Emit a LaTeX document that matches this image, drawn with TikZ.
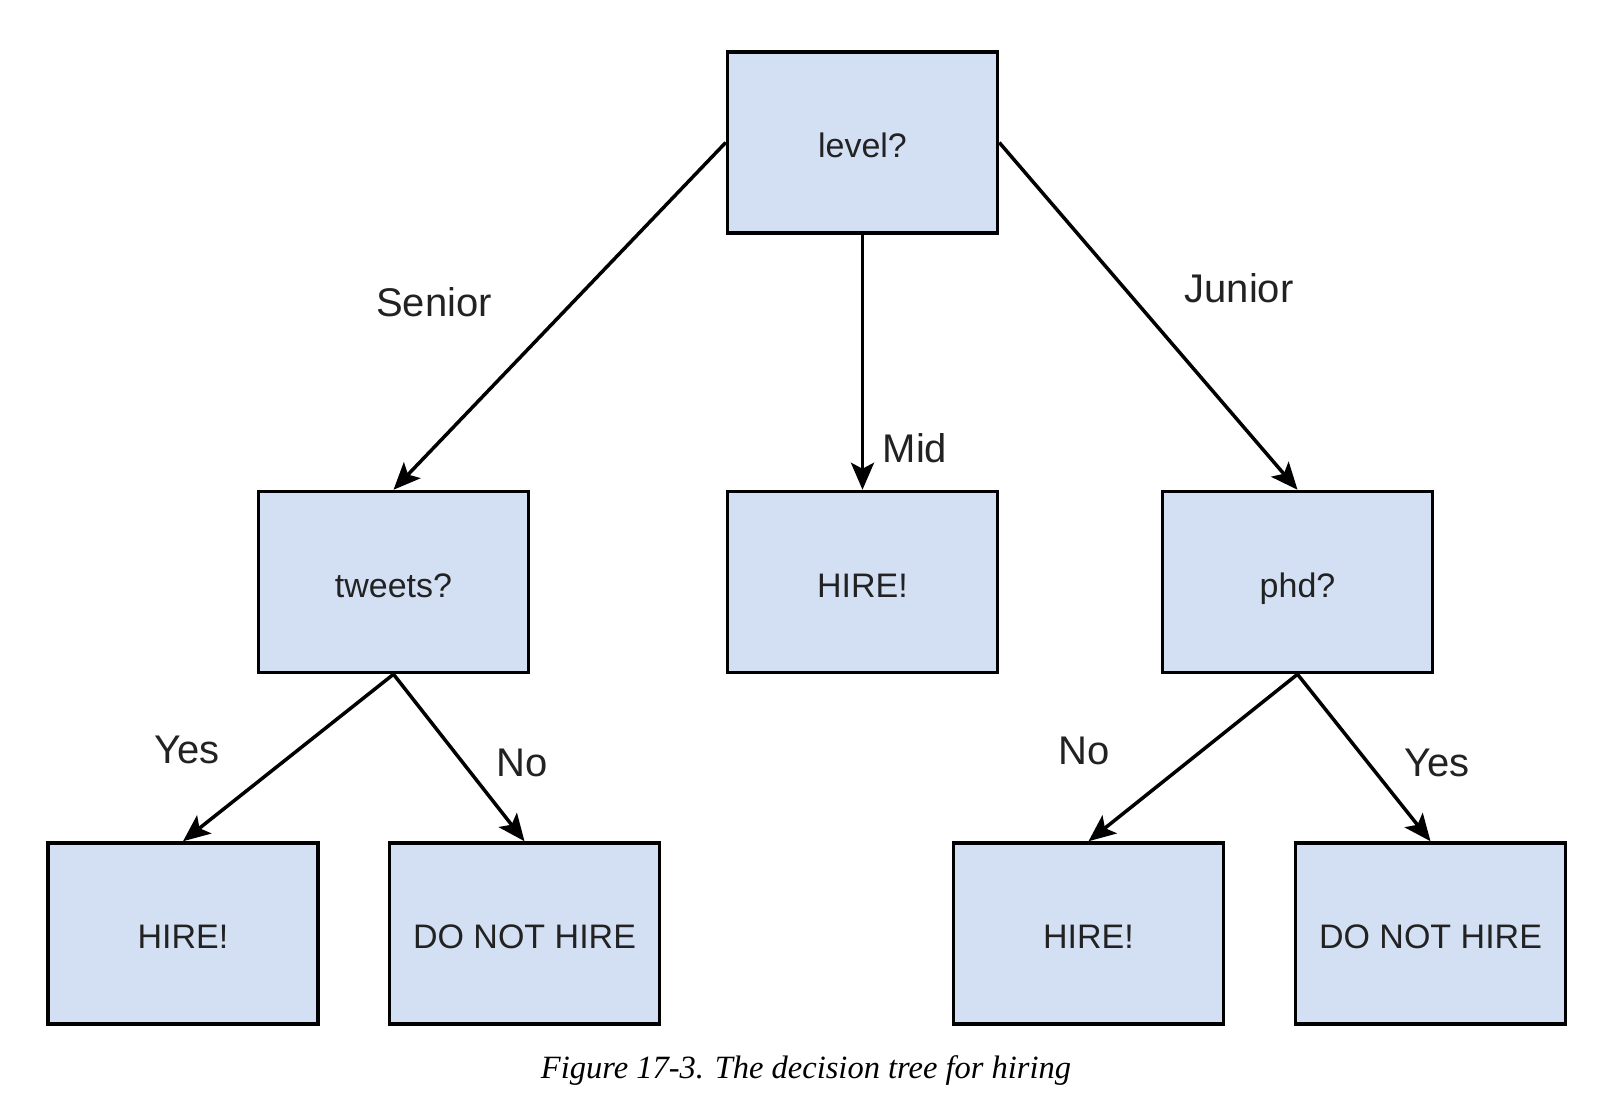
\documentclass[tikz,border=0pt]{standalone}
\usepackage{fontspec}
\setmainfont{Liberation Sans}
\newfontfamily\capfont{Liberation Serif}
\usetikzlibrary{arrows.meta}
\definecolor{boxblue}{RGB}{211,224,244}
\definecolor{inkgray}{RGB}{34,34,34}
\tikzstyle{box} = [draw=black, line width=3.5pt, fill=boxblue, minimum width=270pt, minimum height=181pt, text=inkgray, text height=34pt, text depth=4pt, font=\fontsize{34}{40}\selectfont]
\tikzstyle{arr} = [line width=3.5pt, -{Stealth[length=27pt,width=23pt,inset=6pt]}]
\tikzstyle{lbl} = [font=\fontsize{40}{48}\selectfont, text=inkgray]
\begin{document}
\begin{tikzpicture}[x=1pt, y=-1pt]
\useasboundingbox (0,0) rectangle (1608,1094);
% boxes
\node[box] (level) at (862.5,142.5) {level?};
\node[box] (tweets) at (393.5,582) {tweets?};
\node[box] (midhire) at (862.5,582) {HIRE!};
\node[box] (phd) at (1297.5,582) {phd?};
\node[box] (hireA) at (183,933.5) {HIRE!};
\node[box] (nohireA) at (524.5,933.5) {DO NOT HIRE};
\node[box] (hireB) at (1088.5,933.5) {HIRE!};
\node[box] (nohireB) at (1430.5,933.5) {DO NOT HIRE};
% edges
\draw[arr] (level.west) -- (tweets.north);
\draw[arr] (level.south) -- (midhire.north);
\draw[arr] (level.east) -- (phd.north);
\draw[arr] (tweets.south) -- (hireA.north);
\draw[arr] (tweets.south) -- (nohireA.north);
\draw[arr] (phd.south) -- (hireB.north);
\draw[arr] (phd.south) -- (nohireB.north);
% edge labels
\node[lbl] (senior) at (434,302) {Senior};
\node[lbl] (mid) at (915,448) {Mid};
\node[lbl] (junior) at (1239,288) {Junior};
\node[lbl] (yesA) at (187,750) {Yes};
\node[lbl] (noA) at (522,763) {No};
\node[lbl] (noB) at (1084,751) {No};
\node[lbl] (yesB) at (1437,763) {Yes};
\node[font=\capfont\itshape\fontsize{32.5}{38}\selectfont] (caption) at (806,1071) {Figure 17-3. The decision tree for hiring};
\end{tikzpicture}
\end{document}
